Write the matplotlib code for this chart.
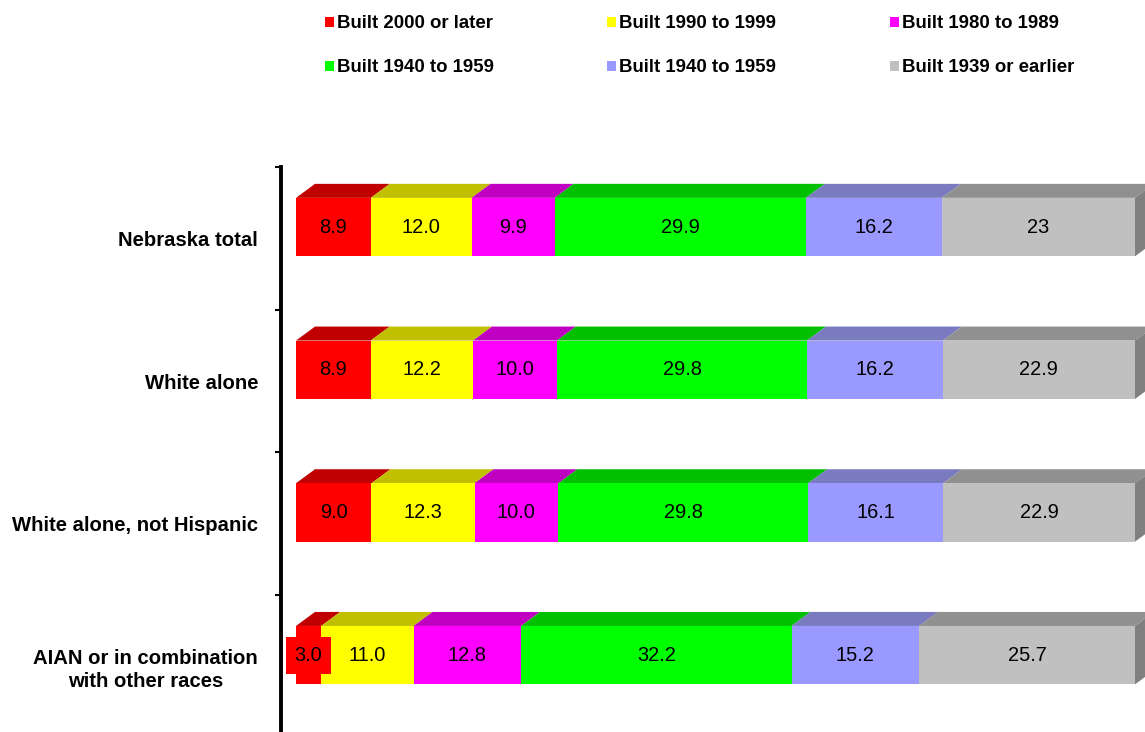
import numpy as np
import matplotlib.pyplot as plt
from matplotlib.patches import Polygon, Rectangle

plt.rcParams["font.family"] = ["Liberation Sans", "DejaVu Sans"]

categories = ["Nebraska total", "White alone", "White alone, not Hispanic",
              "AIAN or in combination\nwith other races"]
legend_names = ["Built 2000 or later", "Built 1990 to 1999", "Built 1980 to 1989",
                "Built 1940 to 1959", "Built 1940 to 1959", "Built 1939 or earlier"]

built_2000 = [8.9, 8.9, 9.0, 3.0]
built_1990 = [12.0, 12.2, 12.3, 11.0]
built_1980 = [9.9, 10.0, 10.0, 12.8]
built_1960 = [29.9, 29.8, 29.8, 32.2]
built_1940 = [16.2, 16.2, 16.1, 15.2]
built_1939 = [23, 22.9, 22.9, 25.7]
series = [built_2000, built_1990, built_1980, built_1960, built_1940, built_1939]

front = ["#ff0000", "#ffff00", "#ff00ff", "#00ff00", "#9999ff", "#c0c0c0"]
top = ["#c00000", "#c0c000", "#c000c0", "#00c000", "#7a7ac0", "#909090"]

W, H = 1145, 732
fig = plt.figure(figsize=(W / 100, H / 100), dpi=100)

# axes runs from the black axis line to the end of the bars, bottom cut by the image
ax = fig.add_axes([281 / W, 0, (1135 - 281) / W, (H - 167) / H])
px_x = (1135 - 296) / 100  # pixels per percent
px_y = 142.7  # pixels per category
ax.set_xlim(-15 / px_x, 100)
ax.set_ylim(-0.5 + (H - 167) / px_y, -0.5)

values = np.array(series, dtype=float)
shares = values / values.sum(axis=0) * 100

bar_h = 58.4 / px_y
shift = -11.3 / px_y  # front faces sit above the band centre, 3d floor
depth_x = 19 / px_x
depth_y = 14 / px_y

y = np.arange(len(categories)) + shift
left = np.zeros(len(categories))
for k in range(len(series)):
    ax.barh(y, shares[k], bar_h, left=left, color=front[k], zorder=3)
    for i in range(len(categories)):
        x0 = left[i]
        x1 = left[i] + shares[k, i]
        t = y[i] - bar_h / 2
        ax.add_patch(Polygon([(x0, t), (x0 + depth_x, t - depth_y),
                              (x1 + depth_x, t - depth_y), (x1, t)],
                             color=top[k], lw=0, clip_on=False, zorder=2))
        label = "23" if series[k][i] == 23 else f"{series[k][i]:.1f}"
        box = None
        if shares[k, i] < 4:
            box = dict(boxstyle="square,pad=0.45", fc=front[k], ec="none")
        ax.text(x0 + shares[k, i] / 2, y[i], label, ha="center", va="center",
                fontsize=14.4, color="black", zorder=5, bbox=box, clip_on=False)
    left = left + shares[k]

# dark right side of the stack
for i in range(len(categories)):
    t = y[i] - bar_h / 2
    b = y[i] + bar_h / 2
    ax.add_patch(Polygon([(100, t), (100 + depth_x, t - depth_y),
                          (100 + depth_x, b - depth_y), (100, b)],
                         color="#808080", lw=0, clip_on=False, zorder=2))

for s in ["top", "right", "bottom"]:
    ax.spines[s].set_visible(False)
ax.spines["left"].set_linewidth(2.8)
ax.xaxis.set_visible(False)
ax.set_yticks(np.arange(len(categories)))
ax.set_yticklabels(categories, fontsize=14.6, fontweight="bold", linespacing=1.25,
                   multialignment="center")
ax.set_yticks(np.arange(len(categories)) - 0.5, minor=True)
ax.tick_params(axis="y", which="major", length=0, pad=16.5)
ax.tick_params(axis="y", which="minor", length=4.5, width=1.5)

# legend, 3 columns by 2 rows
col_x = [325, 607, 890]
row_y = [22, 66]
for n, name in enumerate(legend_names):
    lx = col_x[n % 3]
    ly = row_y[n // 3]
    fig.add_artist(Rectangle((lx / W, 1 - (ly + 5) / H), 9 / W, 10 / H,
                             transform=fig.transFigure, color=front[n], lw=0))
    fig.text((lx + 12) / W, 1 - (ly + 1.5) / H, name, ha="left", va="center",
             fontsize=13.45, fontweight="bold")

fig.savefig("out.png", dpi=100)
